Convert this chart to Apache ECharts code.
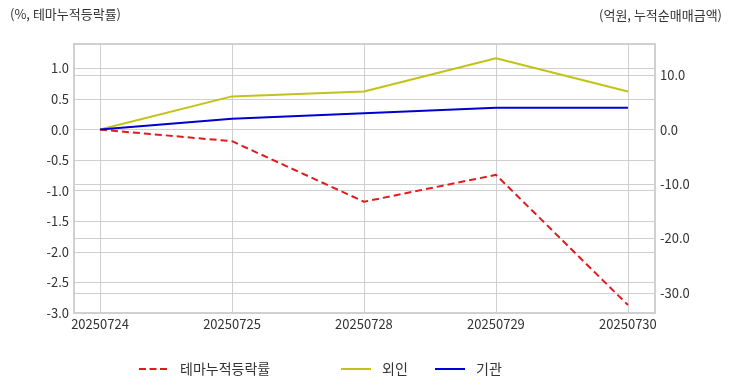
<!DOCTYPE html>
<html><head><meta charset="utf-8">
<script src="https://cdn.jsdelivr.net/npm/echarts@6/dist/echarts.min.js"></script>
<style>html,body{margin:0;padding:0;background:#fff}#c{width:732px;height:392px}</style>
</head><body><div id="c"></div>
<script>
const dates = ['20250724','20250725','20250728','20250729','20250730'];
const themeRate = [0.0, -0.19, -1.18, -0.74, -2.87];
const foreign = [0.0, 6.1, 7.0, 13.1, 7.0];
const institution = [0.0, 2.0, 3.0, 4.0, 4.0];
const rightTicks = [-30, -20, -10, 0, 10];
const xTicks = [0, 1, 2, 3, 4];

const FONT = '"Noto Sans CJK KR", "Noto Sans", sans-serif';
const pair = arr => arr.map((v, i) => [i, v]);
const chart = echarts.init(document.getElementById('c'));
const gridLine = { show: true, lineStyle: { color: '#cfcfcf', width: 1 } };
const dashIcon = 'path://M0,0h7v2h-7zM10.5,0h7v2h-7zM21,0h7v2h-7z';
const solidIcon = 'path://M0,0h30v2h-30z';
const legendText = { fontSize: 14, color: '#333', fontFamily: FONT };
chart.setOption({
  animation: false,
  textStyle: { fontFamily: FONT },
  graphic: [
    { type: 'text', left: 10, top: 8, style: { text: '(%, 테마누적등락률)', font: '13px ' + FONT, fill: '#333' } },
    { type: 'text', right: 10, top: 9, style: { text: '(억원, 누적순매매금액)', font: '13px ' + FONT, fill: '#333' } }
  ],
  grid: { left: 74, right: 77, top: 44, bottom: 79, show: true, borderColor: '#d0d0d0', borderWidth: 2, backgroundColor: 'transparent' },
  legend: [
    { data: [{ name: '테마누적등락률', icon: dashIcon }], left: 139, top: 362, padding: 0, itemWidth: 28, itemHeight: 2, textStyle: Object.assign({ padding: [0, 0, 0, 8] }, legendText) },
    { data: [{ name: '외인', icon: solidIcon }], left: 341, top: 362, padding: 0, itemWidth: 30, itemHeight: 2, textStyle: Object.assign({ padding: [0, 0, 0, 6] }, legendText) },
    { data: [{ name: '기관', icon: solidIcon }], left: 435, top: 362, padding: 0, itemWidth: 30, itemHeight: 2, textStyle: Object.assign({ padding: [0, 0, 0, 6] }, legendText) }
  ],
  xAxis: {
    type: 'value', min: -0.197, max: 4.205,
    axisLine: { show: false }, axisTick: { show: false, customValues: xTicks },
    axisLabel: { customValues: xTicks, formatter: v => dates[Math.round(v)], color: '#333', fontSize: 13, margin: 5, fontFamily: FONT },
    splitLine: gridLine
  },
  yAxis: [
    {
      type: 'value', min: -3.0, max: 1.4, interval: 0.5, position: 'left',
      axisLine: { show: false }, axisTick: { show: false },
      axisLabel: { showMaxLabel: false, formatter: v => v.toFixed(1), color: '#333', fontSize: 13, margin: 5, fontFamily: FONT },
      splitLine: gridLine
    },
    {
      type: 'value', min: -33.72, max: 15.73, position: 'right',
      axisLine: { show: false }, axisTick: { show: false, customValues: rightTicks },
      axisLabel: { customValues: rightTicks, formatter: v => v.toFixed(1), color: '#333', fontSize: 13, margin: 5, fontFamily: FONT },
      splitLine: gridLine
    }
  ],
  series: [
    { name: '테마누적등락률', type: 'line', yAxisIndex: 0, data: pair(themeRate), symbol: 'none', lineStyle: { color: '#e31a1c', width: 2, type: [7, 4] }, itemStyle: { color: '#e31a1c' } },
    { name: '외인', type: 'line', yAxisIndex: 1, data: pair(foreign), symbol: 'none', lineStyle: { color: '#c2c21a', width: 2 }, itemStyle: { color: '#c2c21a' } },
    { name: '기관', type: 'line', yAxisIndex: 1, data: pair(institution), symbol: 'none', lineStyle: { color: '#0000d0', width: 2 }, itemStyle: { color: '#0000d0' } }
  ]
});
</script></body></html>
